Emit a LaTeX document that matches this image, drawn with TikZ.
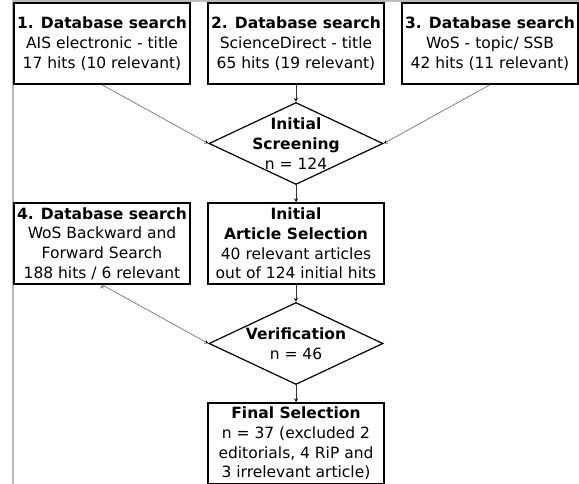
\documentclass[tikz,border=0pt]{standalone}
\usepackage{fontspec}
\setmainfont{DejaVu Sans}
\usetikzlibrary{shapes.geometric,positioning}

\begin{document}
\begin{tikzpicture}[x=1pt,y=1pt,node distance=100pt and 194pt,on grid,
  font=\fontsize{15.5}{19.7}\selectfont,
  box/.style={draw,line width=1.5pt,align=center,minimum width=176pt,minimum height=81pt,inner sep=2pt},
  decision/.style={draw,diamond,line width=1.2pt,minimum width=174pt,minimum height=82pt,inner sep=0pt},
  flow/.style={->,>=stealth,draw=black!80,line width=0.8pt},
  feed/.style={->,>=stealth,draw=black!55,line width=0.7pt}]
  \useasboundingbox (0,0) rectangle (579,-484);
  % frame edge
  \draw[black!27,line width=2pt] (12.5,-484) -- (12.5,-1) -- (579,-1);

  \node[box] (s2) at (296,-43.5) {\textbf{2. Database search}\\ScienceDirect - title\\65 hits (19 relevant)};
  \node[box] (s1) [left=of s2] {\textbf{1. Database search}\\AIS electronic - title\\17 hits (10 relevant)};
  \node[box] (s3) [right=of s2] {\textbf{3. Database search}\\WoS - topic/ SSB\\42 hits (11 relevant)};
  \node[decision,label={[align=center]center:{\textbf{Initial}\\\textbf{Screening}\\n = 124}}] (screen) [below=of s2] {};
  \node[box] (select) [below=of screen] {\textbf{Initial}\\\textbf{Article Selection}\\40 relevant articles\\out of 124 initial hits};
  \node[box] (s4) [left=of select] {\textbf{4. Database search}\\WoS Backward and\\Forward Search\\188 hits / 6 relevant};
  \node[decision,label={[align=center]center:{\textbf{Verification}\\n = 46}}] (verify) [below=of select] {};
  \node[box] (final) [below=of verify] {\textbf{Final Selection}\\n = 37 (excluded 2\\editorials, 4 RiP and\\3 irrelevant article)};

  \path[flow]
    (s2) edge (screen)
    (screen) edge (select)
    (select) edge (verify)
    (verify) edge (final);
  \path[feed]
    (s1.south) edge (screen.west)
    (s3.south) edge (screen.east)
    (s4.south) edge (verify.west);
\end{tikzpicture}
\end{document}
